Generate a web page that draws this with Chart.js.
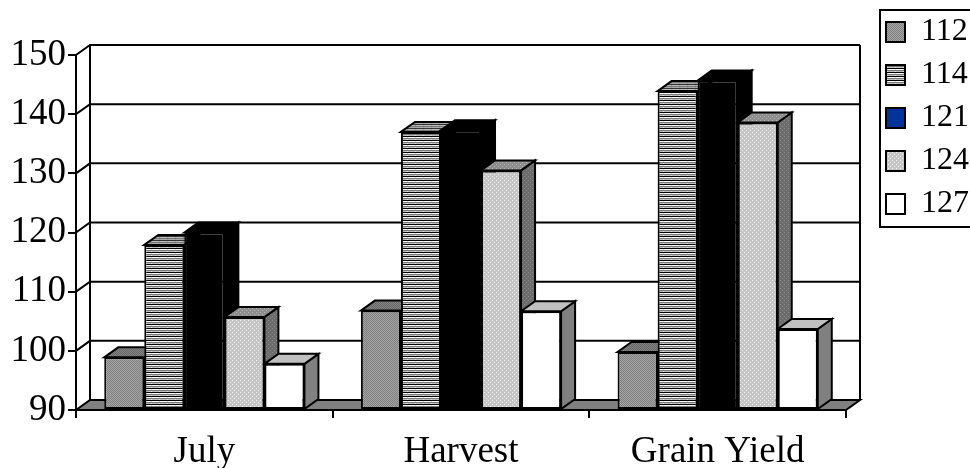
<!DOCTYPE html>
<html>
<head>
<meta charset="utf-8">
<script src="https://cdn.jsdelivr.net/npm/chart.js@4.4.1/dist/chart.umd.min.js"></script>
<style>
  html, body { margin: 0; padding: 0; background: #fff; }
  canvas { display: block; }
</style>
</head>
<body>
<canvas id="myChart" width="970" height="468"></canvas>
<script>
// values
const categories = ["July", "Harvest", "Grain Yield"];
const seriesNames = ["112", "114", "121", "124", "127"];
const s112 = [98.9, 106.8, 99.8];
const s114 = [117.9, 137.0, 143.9];
const s121 = [120.0, 137.3, 145.7];
const s124 = [105.7, 130.5, 138.6];
const s127 = [97.8, 106.7, 103.7];
const yMin = 90, yMax = 150, yStep = 10;

// depth of the fake 3d look
const DX = 14, DY = 10;

function makePattern(w, h, bg, pixels) {
   let c = document.createElement("canvas");
   c.width = w;
   c.height = h;
   let g = c.getContext("2d");
   g.fillStyle = bg;
   g.fillRect(0, 0, w, h);
   pixels.forEach((p) => {
      g.fillStyle = p[2];
      g.fillRect(p[0], p[1], p[3] || 1, p[4] || 1);
   });
   return document.createElement("canvas").getContext("2d").createPattern(c, "repeat");
}

function checker(a, b) {
   return makePattern(2, 2, a, [[1, 0, b], [0, 1, b]]);
}

function stripes(c0, c1, c2, c3, col) {
   return makePattern(8, 4, c2, [
      [0, 0, c0, 8, 1],
      [0, 1, c1, 8, 1],
      [0, 3, c3, 8, 1],
      [7, 1, col, 1, 1],
      [7, 3, col, 1, 1],
   ]);
}

function dotted(bg, dot) {
   return makePattern(4, 4, bg, [[0, 0, dot], [2, 2, dot]]);
}

// front / top / side fill for every series
const faces = [
   { front: checker("#7e7e7e", "#a6a6a6"), top: checker("#666", "#858585"), side: checker("#575757", "#767676") },
   { front: stripes("#000", "#fff", "#7a7a7a", "#bdbdbd", "#ddd"), top: stripes("#333", "#bbb", "#777", "#aaa", "#999"), side: stripes("#000", "#999", "#555", "#888", "#777") },
   { front: "#000", top: "#000", side: "#000" },
   { front: dotted("#c6c6c6", "#f0f0f0"), top: dotted("#8e8e8e", "#b5b5b5"), side: dotted("#6c6c6c", "#8c8c8c") },
   { front: "#fff", top: "#c0c0c0", side: "#808080" },
];
const legendFills = [faces[0].front, faces[1].front, "#003399", faces[3].front, "#fff"];

const allSeries = [s112, s114, s121, s124, s127];

// back wall, floor and the top/side faces of each bar
const depthPlugin = {
   id: "depth",
   beforeDatasetsDraw(chart) {
      const ctx = chart.ctx;
      const { left, right, top, bottom } = chart.chartArea;
      const y = chart.scales.y;
      ctx.save();
      ctx.strokeStyle = "#000";
      ctx.lineWidth = 2;
      ctx.lineJoin = "miter";

      // floor
      ctx.beginPath();
      ctx.moveTo(left, bottom);
      ctx.lineTo(right, bottom);
      ctx.lineTo(right + DX, bottom - DY);
      ctx.lineTo(left + DX, bottom - DY);
      ctx.closePath();
      ctx.fillStyle = "#808080";
      ctx.fill();
      ctx.stroke();

      // gridlines on side and back wall
      for (let v = yMin + yStep; v <= yMax; v += yStep) {
         let py = y.getPixelForValue(v);
         ctx.beginPath();
         ctx.moveTo(left, py);
         ctx.lineTo(left + DX, py - DY);
         ctx.lineTo(right + DX, py - DY);
         ctx.stroke();
      }
      ctx.beginPath();
      ctx.moveTo(left + DX, top - DY);
      ctx.lineTo(left + DX, bottom - DY);
      ctx.moveTo(right + DX, top - DY);
      ctx.lineTo(right + DX, bottom - DY);
      ctx.stroke();

      // side and top faces, left to right in each group
      for (let j = 0; j < categories.length; j++) {
         for (let i = 0; i < allSeries.length; i++) {
            let bar = chart.getDatasetMeta(i).data[j];
            let bl = bar.x - bar.width / 2;
            let br = bar.x + bar.width / 2;
            let bt = bar.y;
            let bb = bar.base;

            ctx.beginPath();
            ctx.moveTo(br, bt);
            ctx.lineTo(br + DX, bt - DY);
            ctx.lineTo(br + DX, bb - DY);
            ctx.lineTo(br, bb);
            ctx.closePath();
            ctx.fillStyle = faces[i].side;
            ctx.fill();
            ctx.stroke();

            ctx.beginPath();
            ctx.moveTo(bl, bt);
            ctx.lineTo(bl + DX, bt - DY);
            ctx.lineTo(br + DX, bt - DY);
            ctx.lineTo(br, bt);
            ctx.closePath();
            ctx.fillStyle = faces[i].top;
            ctx.fill();
            ctx.stroke();
         }
      }
      ctx.restore();
   },
   afterDraw(chart) {
      // frame round the legend
      const lg = chart.legend;
      if (!lg || !lg.legendHitBoxes.length) return;
      const boxes = lg.legendHitBoxes;
      const last = boxes[boxes.length - 1];
      const ctx = chart.ctx;
      ctx.save();
      ctx.strokeStyle = "#000";
      ctx.lineWidth = 2;
      let x0 = boxes[0].left - 6;
      let y0 = boxes[0].top - 6;
      let y1 = last.top + last.height + 7;
      ctx.strokeRect(x0, y0, 990 - x0, y1 - y0);
      ctx.restore();
   },
};

Chart.defaults.font.family = "'Liberation Serif', 'Times New Roman', serif";
Chart.defaults.color = "#000";

let ctx = document.getElementById("myChart").getContext("2d");
let myChart = new Chart(ctx, {
   type: "bar",
   data: {
      labels: categories,
      datasets: allSeries.map((values, i) => ({
         label: seriesNames[i],
         data: values,
         base: yMin,
         backgroundColor: faces[i].front,
         borderColor: "#000",
         borderWidth: 2,
         borderSkipped: false,
         categoryPercentage: 0.78,
         barPercentage: 1,
      })),
   },
   options: {
      responsive: false,
      animation: false,
      devicePixelRatio: 1,
      layout: { padding: { top: 5, left: 10, right: -9, bottom: 0 } },
      plugins: {
         title: {
            display: true,
            text: " ",
            fullSize: false,
            font: { size: 10 },
            padding: { top: 38, bottom: 0 },
         },
         tooltip: { enabled: false },
         legend: {
            position: "right",
            align: "start",
            labels: {
               boxWidth: 19,
               boxHeight: 20,
               padding: 11,
               font: { size: 32 },
               generateLabels: (chart) =>
                  seriesNames.map((name, i) => ({
                     text: name,
                     fillStyle: legendFills[i],
                     strokeStyle: "#000",
                     lineWidth: 2,
                     datasetIndex: i,
                     hidden: false,
                  })),
            },
         },
      },
      scales: {
         x: {
            grid: {
               display: true,
               drawOnChartArea: false,
               drawTicks: true,
               tickLength: 8,
               color: "#000",
               lineWidth: 2,
            },
            border: { display: true, color: "#000", width: 2 },
            ticks: { font: { size: 37 }, padding: 12, maxRotation: 0 },
            afterFit: (s) => {
               s.height = 58;
            },
         },
         y: {
            min: yMin,
            max: yMax,
            grid: {
               drawOnChartArea: false,
               drawTicks: true,
               tickLength: 8,
               color: "#000",
               lineWidth: 2,
            },
            border: { display: true, color: "#000", width: 2 },
            ticks: { stepSize: yStep, font: { size: 37 }, padding: 2 },
            afterFit: (s) => {
               s.width = 66;
            },
         },
         // spacer between the plot and the legend
         y2: {
            position: "right",
            display: true,
            grid: { display: false },
            border: { display: false },
            ticks: { display: false },
            afterFit: (s) => {
               s.width = 29;
            },
         },
      },
   },
   plugins: [depthPlugin],
});
</script>
</body>
</html>
